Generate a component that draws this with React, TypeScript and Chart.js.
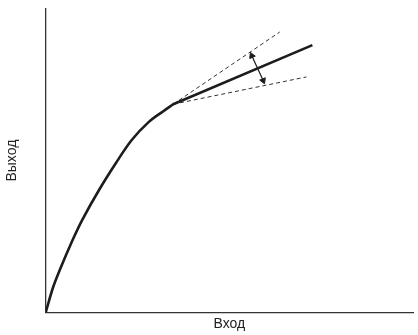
import React, { useEffect, useRef } from "react";
import { Chart, registerables } from "chart.js";

Chart.register(...registerables);

const xTitle = "Вход";
const yTitle = "Выход";

// Main response curve (concave part up to the knee)
const curveX = [0, 1.9, 3.8, 7.3, 9.9, 14.5, 19.1, 23.4, 28.0, 32.0, 34.7];
const curveY = [0, 7.9, 13.9, 23.8, 30.4, 40.3, 49.2, 56.8, 62.7, 66.3, 68.6];

// Straight segment after the knee
const lineX = [34.7, 72.6];
const lineY = [68.6, 88.1];

// Dashed bounds
const upperX = [34.7, 63.7];
const upperY = [68.6, 92.4];
const lowerX = [34.7, 71.0];
const lowerY = [68.6, 77.6];

// Double-headed arrow
const arrowX = [56.1, 59.2];
const arrowY = [84.6, 76.4];
const arrowRot = [-22.7, 157.3];

const pts = (xs: number[], ys: number[]) => xs.map((x, i) => ({ x, y: ys[i] }));

export default function App() {
  const ref = useRef<HTMLCanvasElement | null>(null);
  useEffect(() => {
    if (!ref.current) return;
    const ink = "#1c1c1c";
    const chart = new Chart(ref.current, {
      type: "line",
      data: {
        datasets: [
          {
            data: pts(curveX, curveY),
            borderColor: ink,
            borderWidth: 2.6,
            pointRadius: 0,
            tension: 0.35,
            borderCapStyle: "round",
          },
          {
            data: pts(lineX, lineY),
            borderColor: ink,
            borderWidth: 2.6,
            pointRadius: 0,
          },
          {
            data: pts(upperX, upperY),
            borderColor: "#333",
            borderWidth: 1,
            borderDash: [4, 3],
            pointRadius: 0,
          },
          {
            data: pts(lowerX, lowerY),
            borderColor: "#333",
            borderWidth: 1,
            borderDash: [4, 3],
            pointRadius: 0,
          },
          {
            data: pts(arrowX, arrowY),
            borderColor: ink,
            borderWidth: 1.2,
            pointStyle: "triangle",
            pointRadius: 3.5,
            pointRotation: arrowRot,
            pointBackgroundColor: ink,
            pointBorderColor: ink,
            pointBorderWidth: 1,
          } as any,
        ],
      },
      options: {
        animation: false,
        responsive: false,
        maintainAspectRatio: false,
        layout: { padding: { top: 9, left: 0, right: 0, bottom: 0 } },
        plugins: { legend: { display: false }, tooltip: { enabled: false } },
        elements: { line: { tension: 0 } },
        scales: {
          x: {
            type: "linear",
            min: 0,
            max: 100,
            grid: { display: false, drawTicks: false },
            border: { display: true, color: "#333", width: 1.3 },
            ticks: { display: false },
            title: {
              display: true,
              text: xTitle,
              color: "#222",
              font: { family: "'Liberation Sans', Arial, sans-serif", size: 14 },
              padding: { top: 4, bottom: 2 },
            },
          },
          y: {
            type: "linear",
            min: 0,
            max: 100,
            grid: { display: false, drawTicks: false },
            border: { display: true, color: "#333", width: 1.3 },
            ticks: { display: false },
            title: {
              display: true,
              text: yTitle,
              color: "#222",
              font: { family: "'Liberation Sans', Arial, sans-serif", size: 14 },
              padding: { top: 4, bottom: 25 },
            },
          },
        },
      },
    });
    return () => chart.destroy();
  }, []);
  return (
    <div style={{ position: "fixed", left: 0, top: 0, width: 418, height: 335, background: "#fff" }}>
      <canvas ref={ref} width={418} height={335} style={{ width: 418, height: 335 }} />
    </div>
  );
}
